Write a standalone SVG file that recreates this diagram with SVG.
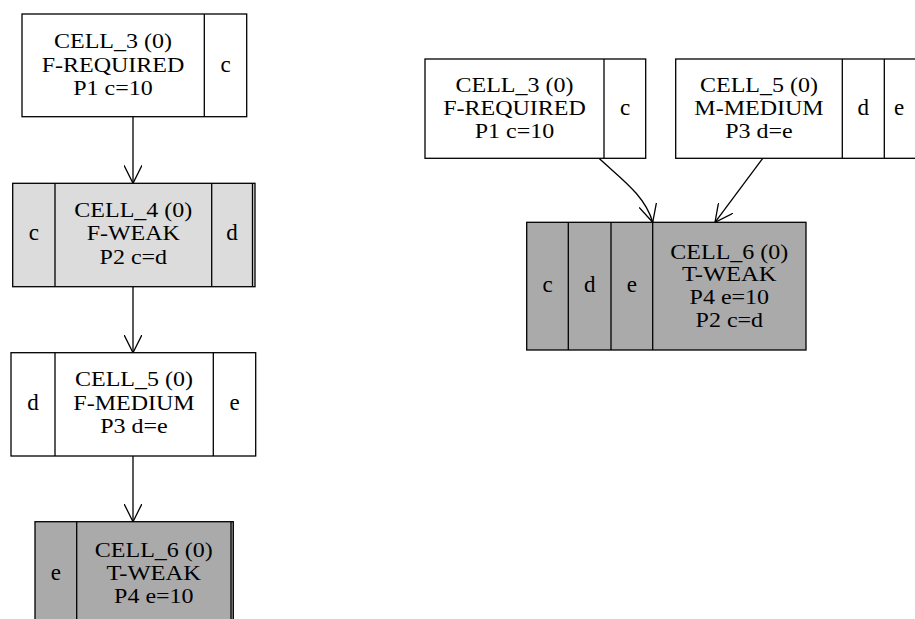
<svg xmlns="http://www.w3.org/2000/svg" width="915" height="619" viewBox="0 0 915 619">
<defs>
<style>
.b{stroke:#000;stroke-width:1.3}
.w{fill:#fff}
.l{fill:#dcdcdc}
.d{fill:#aaaaaa}
.ln{stroke:#000;stroke-width:1.3;fill:none}
text{font-family:"Liberation Serif","Times New Roman",serif;font-size:20.5px;fill:#000;text-anchor:middle}
text.s{font-size:23px}
</style>
<marker id="arr" viewBox="0 0 18 18" refX="18" refY="9" markerWidth="18" markerHeight="18" markerUnits="userSpaceOnUse" orient="auto">
<path d="M0,0 L18,9 L0,18" fill="none" stroke="#000" stroke-width="1.3"/>
</marker>
</defs>
<rect width="915" height="619" fill="#fff"/>
<g id="edges">
<path class="ln" d="M133,117 L133,183.3" marker-end="url(#arr)"/>
<path class="ln" d="M133,286.7 L133,352.7" marker-end="url(#arr)"/>
<path class="ln" d="M133,456 L133,521.7" marker-end="url(#arr)"/>
<path class="ln" d="M599,158.3 C620,178 645,195 652.7,222.3" marker-end="url(#arr)"/>
<path class="ln" d="M762.7,158.3 L715,222.3" marker-end="url(#arr)"/>
</g>
<g id="n1">
<rect class="b w" x="22" y="14" width="224.7" height="102.7"/>
<line class="b" x1="204.3" y1="14" x2="204.3" y2="116.7"/>
<text x="113" y="48" textLength="118" lengthAdjust="spacingAndGlyphs">CELL_3 (0)</text>
<text x="113" y="71.5" textLength="142.7" lengthAdjust="spacingAndGlyphs">F-REQUIRED</text>
<text x="113" y="94.5" textLength="79.5" lengthAdjust="spacingAndGlyphs">P1 c=10</text>
<text class="s" x="225.5" y="71.5">c</text>
</g>
<g id="n2">
<rect class="b l" x="12.7" y="183.3" width="242.3" height="103.4"/>
<line class="b" x1="252.5" y1="183.3" x2="252.5" y2="286.7"/>
<line class="b" x1="55" y1="183.3" x2="55" y2="286.7"/>
<line class="b" x1="211.7" y1="183.3" x2="211.7" y2="286.7"/>
<text x="133.3" y="216.5" textLength="118" lengthAdjust="spacingAndGlyphs">CELL_4 (0)</text>
<text x="133.3" y="240" textLength="93.3" lengthAdjust="spacingAndGlyphs">F-WEAK</text>
<text x="133.3" y="263.5" textLength="67.5" lengthAdjust="spacingAndGlyphs">P2 c=d</text>
<text class="s" x="33.8" y="240">c</text>
<text class="s" x="232" y="240">d</text>
</g>
<g id="n3">
<rect class="b w" x="11" y="352.7" width="244.7" height="103.3"/>
<line class="b" x1="55" y1="352.7" x2="55" y2="456"/>
<line class="b" x1="213.3" y1="352.7" x2="213.3" y2="456"/>
<text x="134" y="386" textLength="118" lengthAdjust="spacingAndGlyphs">CELL_5 (0)</text>
<text x="134" y="409.5" textLength="121.3" lengthAdjust="spacingAndGlyphs">F-MEDIUM</text>
<text x="134" y="432.5" textLength="67.5" lengthAdjust="spacingAndGlyphs">P3 d=e</text>
<text class="s" x="33" y="409.5">d</text>
<text class="s" x="234.5" y="409.5">e</text>
</g>
<g id="n4">
<rect class="b d" x="35" y="521.7" width="198.3" height="105"/>
<line class="b" x1="231" y1="521.7" x2="231" y2="626.7"/>
<line class="b" x1="76.7" y1="521.7" x2="76.7" y2="626.7"/>
<text x="153.8" y="556.5" textLength="118" lengthAdjust="spacingAndGlyphs">CELL_6 (0)</text>
<text x="153.8" y="579.5" textLength="94.6" lengthAdjust="spacingAndGlyphs">T-WEAK</text>
<text x="153.8" y="602.5" textLength="79.5" lengthAdjust="spacingAndGlyphs">P4 e=10</text>
<text class="s" x="55.8" y="579.5">e</text>
</g>
<g id="n5">
<rect class="b w" x="425" y="59" width="220.7" height="99.3"/>
<line class="b" x1="604" y1="59" x2="604" y2="158.3"/>
<text x="514.5" y="91.5" textLength="118" lengthAdjust="spacingAndGlyphs">CELL_3 (0)</text>
<text x="514.5" y="114.5" textLength="142.7" lengthAdjust="spacingAndGlyphs">F-REQUIRED</text>
<text x="514.5" y="137.5" textLength="79.5" lengthAdjust="spacingAndGlyphs">P1 c=10</text>
<text class="s" x="625" y="114.5">c</text>
</g>
<g id="n6">
<rect class="b w" x="675.7" y="59" width="250" height="99.3"/>
<line class="b" x1="842.3" y1="59" x2="842.3" y2="158.3"/>
<line class="b" x1="884.3" y1="59" x2="884.3" y2="158.3"/>
<text x="759" y="91.5" textLength="118" lengthAdjust="spacingAndGlyphs">CELL_5 (0)</text>
<text x="759" y="114.5" textLength="129.3" lengthAdjust="spacingAndGlyphs">M-MEDIUM</text>
<text x="759" y="137.5" textLength="67.5" lengthAdjust="spacingAndGlyphs">P3 d=e</text>
<text class="s" x="863.3" y="114.5">d</text>
<text class="s" x="899" y="114.5">e</text>
</g>
<g id="n7">
<rect class="b d" x="526.7" y="222.3" width="279.3" height="127.7"/>
<line class="b" x1="568.3" y1="222.3" x2="568.3" y2="350"/>
<line class="b" x1="611" y1="222.3" x2="611" y2="350"/>
<line class="b" x1="652.7" y1="222.3" x2="652.7" y2="350"/>
<text x="729.3" y="258.5" textLength="118" lengthAdjust="spacingAndGlyphs">CELL_6 (0)</text>
<text x="729.3" y="281.3" textLength="94.6" lengthAdjust="spacingAndGlyphs">T-WEAK</text>
<text x="729.3" y="304.3" textLength="79.5" lengthAdjust="spacingAndGlyphs">P4 e=10</text>
<text x="729.3" y="327.3" textLength="67.5" lengthAdjust="spacingAndGlyphs">P2 c=d</text>
<text class="s" x="547.5" y="292">c</text>
<text class="s" x="589.7" y="292">d</text>
<text class="s" x="631.8" y="292">e</text>
</g>
</svg>
